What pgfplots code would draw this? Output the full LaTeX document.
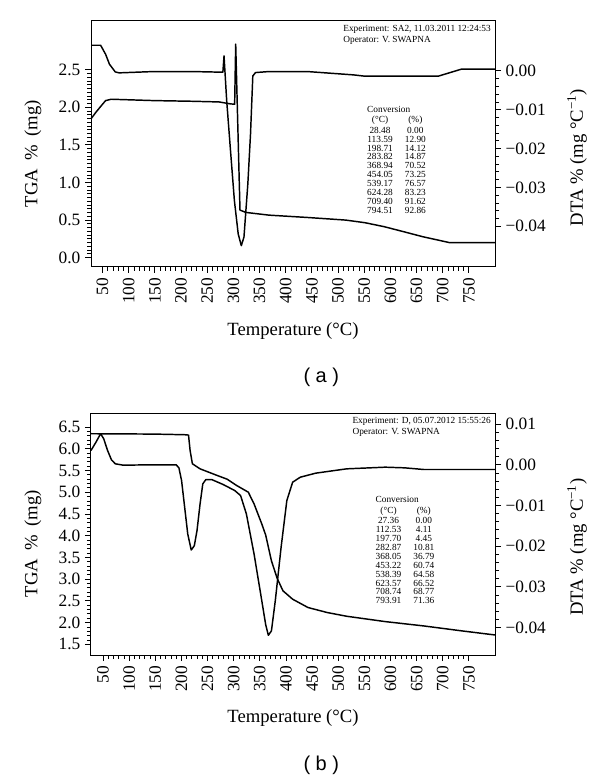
\documentclass[border=0pt]{standalone}
\usepackage{pgfplots}
\pgfplotsset{compat=1.18}
\usepackage{pgfplotstable}
\usepackage{fontspec}
\setmainfont{Liberation Serif}
\newfontfamily\labelsans{Liberation Sans}

% Panel (a): DTA (mg/C) and TGA (mg) against temperature (C)
\pgfplotstableread{
T dta
28.0 0.0066
46.4 0.0066
55.9 0.00428
63.3 0.00171
74.3 -0.00026
81.6 -0.00051
147.7 -0.00017
221.2 -0.00017
280.0 -0.00034
282.2 0.00385
287.3 -0.00771
294.6 -0.02056
302.0 -0.0334
309.3 -0.0420
315.2 -0.0450
320.3 -0.0428
327.7 -0.0291
332.8 -0.0163
337.2 -0.0013
342.4 -0.00043
368.1 -0.00017
441.5 -0.00017
529.7 -0.00103
551.7 -0.00137
691.3 -0.00137
735.4 0.00043
800.0 0.00043
}\dtaA
\pgfplotstableread{
T tga
28.0 1.846
37.5 1.935
46.4 2.010
55.9 2.089
66.9 2.107
89.0 2.102
147.7 2.089
221.2 2.080
272.6 2.071
294.6 2.045
302.5 2.041
304.5 2.840
312.7 0.632
324.0 0.601
368.1 0.565
441.5 0.534
515.0 0.499
551.7 0.464
588.5 0.411
625.2 0.345
661.9 0.278
713.3 0.199
800.0 0.199
}\tgaA
% Panel (b)
\pgfplotstableread{
T dta
27.0 0.00353
36.6 0.00559
45.4 0.00764
51.3 0.00641
58.7 0.00353
66.1 0.00123
73.5 0.00025
88.2 -0.00008
147.2 0.0
190.0 0.0
195.2 -0.00074
200.3 -0.00386
206.2 -0.01044
212.1 -0.01701
218.8 -0.02095
224.7 -0.01988
229.8 -0.01619
235.7 -0.00961
240.9 -0.00468
246.8 -0.00362
257.9 -0.00362
280.0 -0.00485
302.1 -0.00633
313.2 -0.00756
324.3 -0.01208
339.0 -0.02194
353.8 -0.03344
361.1 -0.0392
366.3 -0.04191
372.2 -0.04084
379.6 -0.03344
390.7 -0.02030
401.7 -0.00879
412.8 -0.00427
427.5 -0.00304
457.0 -0.00205
516.0 -0.00099
589.8 -0.00058
626.7 -0.00074
663.6 -0.00115
800.0 -0.00115
}\dtaB
\pgfplotstableread{
T tga
27.0 6.346
147.2 6.338
206.2 6.323
213.6 6.315
216.6 5.962
221.0 5.654
235.7 5.538
265.3 5.400
287.4 5.300
305.8 5.154
316.9 5.077
328.0 5.000
339.0 4.731
353.8 4.269
361.2 4.015
372.2 3.423
383.3 3.015
394.3 2.731
412.8 2.538
442.3 2.346
479.2 2.231
516.0 2.146
589.8 2.023
663.6 1.923
737.3 1.808
800.0 1.715
}\tgaB

\tikzset{smalltxt/.style={font=\fontsize{7}{8.5}\selectfont}}
\pgfplotsset{
  base/.style={
    scale only axis, width=303pt,
    xmin=28, xmax=800,
    xtick={50,100,...,750}, minor x tick num=4,
    tick align=outside,
    major tick length=4.5pt, minor tick length=3pt,
    axis line style={line width=0.75pt},
    every tick/.append style={black, line width=0.65pt},
    every minor tick/.append style={black, line width=0.6pt},
    tick label style={font=\fontsize{13}{13}\selectfont},
    label style={font=\fontsize{14}{14}\selectfont},
    /pgf/number format/assume math mode=true,
    scaled ticks=false,
    clip=false,
  },
  curve/.style={black, line width=1.1pt, no marks, line join=round},
  panelL/.style={
    xtick pos=left, ytick pos=left,
    xticklabel style={rotate=90, anchor=east},
    yticklabel style={/pgf/number format/.cd, fixed, fixed zerofill, precision=1},
    xlabel={Temperature (°C)},
    xlabel style={at={(axis description cs:0.5,-0.26)}, anchor=center},
    ylabel={TGA\hspace{0.45em}\%\hspace{0.45em}(mg)},
    ylabel style={at={(axis description cs:-0.1436,0.46)}, anchor=center},
  },
  panelR/.style={
    axis x line=none, axis y line*=right,
    ylabel={DTA \% (mg °C\textsuperscript{−1})},
    ylabel style={at={(axis description cs:1.203,0.445)}, anchor=center},
  },
}

\begin{document}
\begin{tikzpicture}
\path[use as bounding box] (-68.25pt,-384.75pt) rectangle (381.75pt,200.25pt);

% ---------------- Panel (a) ----------------
\begin{axis}[base, panelL, height=184.5pt,
  ymin=-0.125, ymax=3.148,
  ytick={0,0.5,1,1.5,2,2.5}, minor y tick num=9]
  \addplot[curve] table[x=T, y=tga] {\tgaA};
  \node[smalltxt, anchor=north east, align=left, inner sep=0pt] at (rel axis cs:0.99,0.985)
    {Experiment: SA2, 11.03.2011 12:24:53\\Operator: V. SWAPNA};
  \node[anchor=north west, inner sep=0pt, font=\fontsize{7}{6.7}\selectfont] at (rel axis cs:0.683,0.655)
    {\begin{tabular}{@{}c@{\hspace{9pt}}c@{}}
      \multicolumn{2}{@{}l@{}}{Conversion}\\[1pt]
      (°C) & (\%)\\[1pt]
      28.48 & 0.00\\ 113.59 & 12.90\\ 198.71 & 14.12\\ 283.82 & 14.87\\
      368.94 & 70.52\\ 454.05 & 73.25\\ 539.17 & 76.57\\ 624.28 & 83.23\\
      709.40 & 91.62\\ 794.51 & 92.86
    \end{tabular}};
  \node[font=\labelsans\fontsize{15}{15}\selectfont] at (axis description cs:0.57,-0.447) {( a )};
\end{axis}
\begin{axis}[base, panelR, height=184.5pt,
  ymin=-0.0505, ymax=0.01285,
  ytick={-0.04,-0.03,-0.02,-0.01,0},
  yticklabels={−0.04,−0.03,−0.02,−0.01,0.00},
  minor y tick num=4]
  \addplot[curve] table[x=T, y=dta] {\dtaA};
\end{axis}

% ---------------- Panel (b) ----------------
\begin{axis}[base, panelL, at={(0pt,-291pt)}, height=181.5pt,
  xmin=27,
  ymin=1.254, ymax=6.823,
  ytick={1.5,2,2.5,3,3.5,4,4.5,5,5.5,6,6.5}, minor y tick num=4]
  \addplot[curve] table[x=T, y=tga] {\tgaB};
  \node[smalltxt, anchor=north east, align=left, inner sep=0pt] at (rel axis cs:0.99,0.983)
    {Experiment: D, 05.07.2012 15:55:26\\Operator: V. SWAPNA};
  \node[anchor=north west, inner sep=0pt, font=\fontsize{7}{6.7}\selectfont] at (rel axis cs:0.704,0.656)
    {\begin{tabular}{@{}c@{\hspace{9pt}}c@{}}
      \multicolumn{2}{@{}l@{}}{Conversion}\\[1pt]
      (°C) & (\%)\\[1pt]
      27.36 & 0.00\\ 112.53 & 4.11\\ 197.70 & 4.45\\ 282.87 & 10.81\\
      368.05 & 36.79\\ 453.22 & 60.74\\ 538.39 & 64.58\\ 623.57 & 66.52\\
      708.74 & 68.77\\ 793.91 & 71.36
    \end{tabular}};
  \node[font=\labelsans\fontsize{15}{15}\selectfont] at (axis description cs:0.57,-0.455) {( b )};
\end{axis}
\begin{axis}[base, panelR, at={(0pt,-291pt)}, height=181.5pt,
  xmin=27,
  ymin=-0.04676, ymax=0.01274,
  ytick={-0.04,-0.03,-0.02,-0.01,0,0.01},
  yticklabels={−0.04,−0.03,−0.02,−0.01,0.00,0.01},
  minor y tick num=4]
  \addplot[curve] table[x=T, y=dta] {\dtaB};
\end{axis}
\end{tikzpicture}
\end{document}
